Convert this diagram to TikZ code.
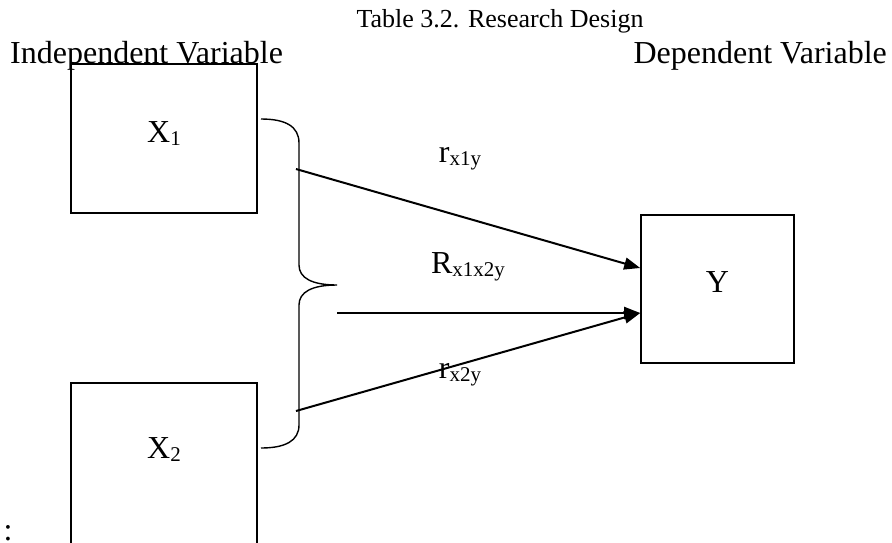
\documentclass[tikz,border=0pt]{standalone}
\usepackage{fontspec}
\setmainfont{Liberation Serif}
\usepackage{tikz}
\usetikzlibrary{arrows.meta,positioning}

% lowered index as in r_{x1y}
\newcommand\lowidx[1]{\raisebox{-3pt}{\fontsize{21}{21}\selectfont #1}}

\tikzset{
  hdr/.style={font=\fontsize{32}{36}\selectfont, inner sep=0pt},
  var/.style={draw, line width=1.6pt, inner sep=0pt, text depth=13pt,
    font=\fontsize{32}{36}\selectfont},
  coef/.style={font=\fontsize{32}{36}\selectfont, inner sep=0pt},
  link/.style={line width=2pt, -{Triangle[length=16pt,width=12pt]}},
  brace/.style={line width=1.4pt}
}

\begin{document}
\begin{tikzpicture}[x=1pt,y=-1pt]
	  \useasboundingbox (0,0) rectangle (892,542);
	  \clip (0,0) rectangle (892,542);

	  \node[font=\fontsize{26}{30}\selectfont, inner sep=0pt, anchor=base] (title) at (500,27) {Table 3.2. Research Design};
	  \node[hdr, anchor=base west] (indep) at (10,63) {Independent Variable};
	  \node[hdr, anchor=base east] (dep) at (887,63) {Dependent Variable};

	  % the variables
	  \node[var, minimum width=186pt, minimum height=149pt] (x1) at (164,138.5) {X\lowidx{1}};
	  \node[var, minimum width=186pt, minimum height=186pt] (x2) at (164,476) {};
	  \node[coef, below=55pt of x2.north] (x2lab) {X\lowidx{2}};
	  \node[var, minimum width=153pt, minimum height=148pt] (y) at (717.5,289) {Y};

	  % brace joining X1 and X2
	  \draw[brace] (261,119) .. controls (285,119) and (299,126) .. (299,143)
	    -- (299,265) .. controls (299,278) and (312,285) .. (337,285)
	    .. controls (312,285) and (299,292) .. (299,305)
	    -- (299,425) .. controls (299,441) and (285,448) .. (261,448);

	  \coordinate (s1) at (296,169);
	  \coordinate (s2) at (337,313);
	  \coordinate (s3) at (296,411);

	  \draw[link] (s1) -- ([yshift=21pt]y.west);
	  \draw[link] (s2) -- ([yshift=-24pt]y.west);
	  \draw[link] (s3) -- ([yshift=-24pt]y.west);

	  \node[coef, anchor=base] (r1) at (460,162) {r\lowidx{x1y}};
	  \node[coef, anchor=base] (r12) at (468,273) {R\lowidx{x1x2y}};
	  \node[coef, anchor=base] (r2) at (460,378) {r\lowidx{x2y}};

	  \node[coef] (colon) at (8,533) {:};
\end{tikzpicture}
\end{document}
